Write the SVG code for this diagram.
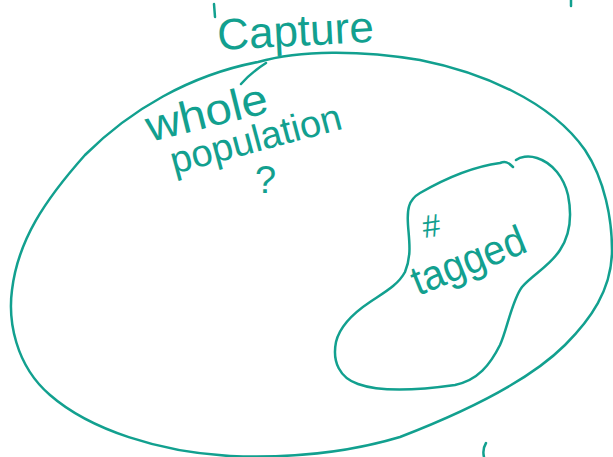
<svg xmlns="http://www.w3.org/2000/svg" width="613" height="457" viewBox="0 0 613 457">
<style>
.ink{fill:none;stroke:#12a08f;stroke-width:2.5;stroke-linecap:round;stroke-linejoin:round}
.hw{font-family:"Liberation Sans","DejaVu Sans",sans-serif;fill:#12a08f}
</style>
<rect width="613" height="457" fill="#ffffff"/>
<g id="population">
<path class="ink" d="M258,62 C300,50 360,50 420,60 C480,72 550,100 585,150 C605,180 612,220 612,250 C612,290 590,320 565,345 C530,380 470,410 400,437 C340,455 280,458 230,456 C160,452 90,430 50,395 C15,365 8,320 12,290 C18,240 45,200 85,155 C130,110 190,75 258,62 Z"/>
<text class="hw" x="218" y="50" font-size="44" transform="rotate(-3 218 50)">Capture</text>
<text class="hw" x="150" y="142" font-size="44" textLength="124" lengthAdjust="spacingAndGlyphs" transform="rotate(-14 150 142)">whole</text>
<text class="hw" x="174" y="174" font-size="38" textLength="176" lengthAdjust="spacingAndGlyphs" transform="rotate(-15 174 174)">population</text>
<text class="hw" x="255" y="193" font-size="38">?</text>
</g>
<g id="tagged">
<path class="ink" d="M513,167 C508,162 505,161 500,163 C485,165 460,170 420,193 C408,200 407,210 408,225 C409,240 412,255 405,272 C398,285 385,292 370,302 C355,312 340,325 336,342 C332,362 340,378 358,384 C380,392 420,390 455,385 C478,380 490,365 500,345 C507,330 512,300 522,287 C532,275 550,266 560,250 C570,235 572,215 568,195 C564,178 553,163 537,158 C528,155 520,157 516,160"/>
<text class="hw" x="424" y="238" font-size="32" transform="rotate(-8 424 238)">#</text>
<text class="hw" x="418" y="296" font-size="42" textLength="120" lengthAdjust="spacingAndGlyphs" transform="rotate(-22 418 296)">tagged</text>
</g>
<g id="connectors">
<path class="ink" d="M241,84 C248,76 255,70 266,63"/>
</g>
<g id="fragments">
<path class="ink" d="M214,4 L215,17"/>
<path class="ink" d="M571,0 L571,6"/>
<path class="ink" d="M486,443 C483,448 483,453 484,457"/>
</g>
</svg>
